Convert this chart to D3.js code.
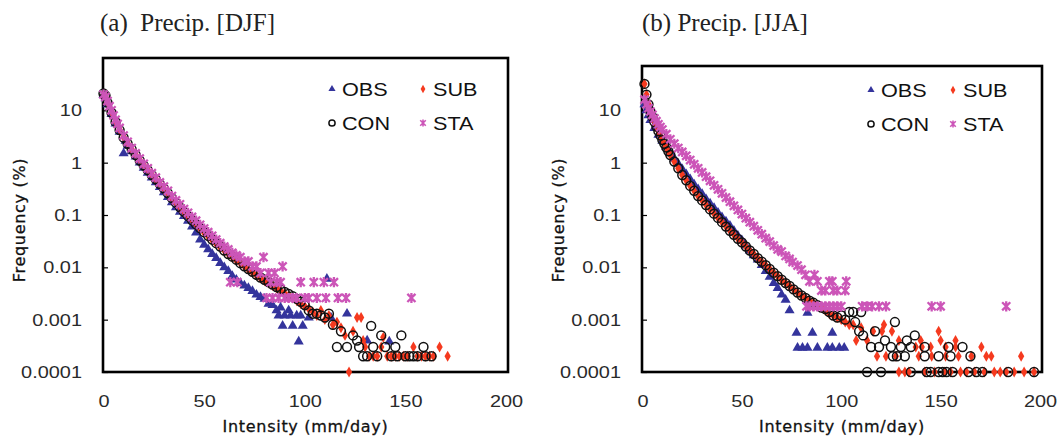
<!DOCTYPE html>
<html>
<head>
<meta charset="utf-8">
<script src="https://cdnjs.cloudflare.com/ajax/libs/d3/7.8.5/d3.min.js"></script>
<style>
    body { margin: 0; background: #fff; }
    svg { display: block; }
    .axis .tick text { font-family: "Liberation Sans", Arial, sans-serif; font-size: 17px; fill: #2a2a2a; }
    .axis .tick line { stroke: #000; stroke-width: 1.2; }
    .legend text { font-family: "Liberation Sans", Arial, sans-serif; font-size: 18.5px; fill: #111; }
    .axis-title { font-family: "DejaVu Sans", sans-serif; font-size: 16px; fill: #111; letter-spacing: 0.7px; stroke: #111; stroke-width: 0.3px; }
    .panel-title { font-family: "Liberation Serif", "Times New Roman", serif; font-size: 25px; fill: #222; }
</style>
</head>
<body>
<svg id="chart" width="1060" height="440"></svg>
<script>

// ---- data: [intensity (mm/day), frequency (%)] ----
const seriesNames = ["OBS", "SUB", "CON", "STA"];
const xTickValues = [0, 50, 100, 150, 200];
const yTickValues = [10, 1, 0.1, 0.01, 0.001, 0.0001];
const yTickLabels = ["10", "1", "0.1", "0.01", "0.001", "0.0001"];

// (a) DJF
const djfObs = [[0,20],[1,17],[2,13],[4,8.5],[6,5.6],[8,3.9],[10,1.5],[11,2.6],[12,2.1],[14,1.65],[16,1.3],[18,1.0],[20,0.8],[22,0.64],[24,0.52],[26,0.42],[28,0.34],[30,0.27],[32,0.22],[34,0.175],[36,0.14],[38,0.115],[40,0.095],[42,0.077],[44,0.06],[46,0.046],[48,0.034],[50,0.027],[52,0.022],[54,0.018],[56,0.015],[58,0.012],[60,0.01],[62,0.0085],[64,0.0068],[66,0.0058],[68,0.005],[70,0.0045],[72,0.004],[74,0.0035],[76,0.003],[78,0.0027],[80,0.0025],[82,0.002],[84,0.0019],[86,0.0015],[87,0.0012],[88,0.0017],[89,0.00076],[90,0.0012],[92,0.0015],[93,0.0012],[94,0.00076],[96,0.0012],[97,0.00038],[98,0.0012],[99,0.00076],[102,0.0011],[111,0.006],[113,0.0011],[121,0.0013],[131,0.0004],[142,0.00038]];
const djfSub = [[0,20],[1,18],[2,14],[4,9.2],[6,6.1],[8,4.3],[10,3.1],[12,2.35],[14,1.8],[16,1.42],[18,1.12],[20,0.9],[22,0.73],[24,0.59],[26,0.48],[28,0.39],[30,0.32],[32,0.26],[34,0.21],[36,0.17],[38,0.14],[40,0.115],[42,0.095],[44,0.08],[46,0.066],[48,0.055],[50,0.046],[52,0.039],[54,0.033],[56,0.028],[58,0.024],[60,0.021],[62,0.018],[64,0.0155],[66,0.0135],[68,0.012],[70,0.0105],[72,0.009],[74,0.008],[76,0.007],[78,0.0062],[80,0.0055],[82,0.005],[84,0.0045],[86,0.004],[88,0.0036],[90,0.0032],[92,0.0029],[94,0.0026],[96,0.0023],[98,0.002],[100,0.0018],[102,0.0016],[104,0.0014],[106,0.0012],[108,0.0015],[110,0.001],[112,0.0012],[114,0.0008],[116,0.0009],[118,0.0007],[120,0.0005],[122,0.0001],[124,0.0006],[126,0.0011],[128,0.0011],[129,0.0004],[130,0.0003],[132,0.0002],[134,0.0002],[136,0.0002],[138,0.0003],[139,0.00046],[141,0.0002],[143,0.0002],[145,0.0002],[147,0.0002],[149,0.0002],[151,0.0002],[154,0.0003],[156,0.0002],[158,0.0002],[160,0.0002],[162,0.0002],[164,0.0002],[167,0.0003],[171,0.0002]];
const djfCon = [[0,21],[1,19],[2,14],[4,9],[6,6],[8,4.2],[10,3.0],[12,2.3],[14,1.8],[16,1.4],[18,1.1],[20,0.88],[22,0.72],[24,0.58],[26,0.48],[28,0.39],[30,0.32],[32,0.26],[34,0.21],[36,0.17],[38,0.14],[40,0.115],[42,0.095],[44,0.079],[46,0.066],[48,0.056],[50,0.047],[52,0.04],[54,0.034],[56,0.029],[58,0.025],[60,0.021],[62,0.018],[64,0.016],[66,0.014],[68,0.012],[70,0.0105],[72,0.0093],[74,0.0082],[76,0.0072],[78,0.0064],[80,0.0058],[82,0.0052],[84,0.0047],[86,0.0042],[88,0.0038],[90,0.0034],[92,0.0031],[94,0.0028],[96,0.0025],[98,0.0022],[100,0.0019],[102,0.0015],[104,0.0013],[106,0.0013],[108,0.0012],[110,0.0011],[112,0.0013],[114,0.0008],[116,0.0003],[118,0.0006],[121,0.0003],[124,0.0005],[126,0.0004],[127,0.0003],[129,0.0002],[131,0.0002],[133,0.00076],[134,0.0003],[136,0.0002],[138,0.0005],[140,0.0003],[143,0.0002],[145,0.0003],[146,0.0002],[148,0.0005],[150,0.0002],[152,0.0002],[154,0.0002],[156,0.0002],[159,0.0003],[160,0.0002],[163,0.0002]];
const djfSta = [[0,20],[1,18],[2,15],[3,12],[4,10],[5,8],[6,6.6],[7,5.5],[8,4.6],[10,3.3],[12,2.5],[14,1.9],[16,1.5],[18,1.2],[20,0.95],[22,0.78],[24,0.63],[26,0.52],[28,0.42],[30,0.35],[32,0.29],[34,0.23],[36,0.19],[38,0.16],[40,0.13],[42,0.11],[44,0.092],[46,0.078],[48,0.065],[50,0.055],[52,0.047],[54,0.04],[56,0.034],[58,0.029],[60,0.025],[62,0.022],[63,0.0052],[64,0.019],[66,0.017],[66.5,0.0052],[68,0.0156],[70,0.013],[72,0.013],[74,0.0104],[76,0.0104],[78,0.0078],[79.5,0.0156],[81,0.0026],[82,0.0078],[83,0.0052],[84,0.0026],[85,0.0078],[86,0.0052],[87,0.0026],[88,0.0052],[89,0.0104],[90,0.0026],[92,0.0026],[94,0.0026],[96,0.0026],[98,0.0052],[100,0.0026],[102,0.0026],[104.5,0.0052],[106,0.0026],[109.5,0.0052],[110.5,0.0026],[114.5,0.0052],[116.5,0.0026],[120.5,0.0026],[153,0.0026]];

// (b) JJA
const jjaObs = [[1,13],[2,10],[3,8],[4,6.5],[6,4.6],[8,3.4],[10,2.6],[12,2.0],[14,1.55],[16,1.2],[18,0.95],[20,0.75],[22,0.6],[24,0.48],[26,0.38],[28,0.31],[30,0.25],[32,0.2],[34,0.165],[36,0.135],[38,0.11],[40,0.09],[42,0.075],[44,0.062],[46,0.05],[48,0.04],[50,0.033],[52,0.026],[54,0.021],[56,0.017],[58,0.014],[60,0.011],[62,0.0085],[64,0.0066],[66,0.005],[68,0.004],[70,0.003],[72,0.0024],[74,0.0015],[77.5,0.00056],[78,0.00029],[80.5,0.00029],[83,0.00135],[83,0.00029],[85.5,0.00056],[88,0.00029],[93,0.00029],[95.5,0.00056],[95.5,0.00029],[99,0.00029],[101.5,0.00029]];
const jjaSub = [[1,32],[2,20],[3,13],[4,9.6],[5,7.5],[6,6],[7,4.9],[8,4],[9,3.3],[10,2.7],[11,2.3],[12,1.95],[13,1.65],[14,1.4],[16,1.05],[18,0.78],[20,0.58],[22,0.46],[24,0.36],[26,0.29],[28,0.23],[30,0.19],[32,0.155],[34,0.128],[36,0.106],[38,0.088],[40,0.073],[42,0.06],[44,0.05],[46,0.042],[48,0.035],[50,0.03],[52,0.025],[54,0.021],[56,0.018],[58,0.015],[60,0.0128],[62,0.011],[64,0.0093],[66,0.0079],[68,0.0068],[70,0.0058],[72,0.005],[74,0.0044],[76,0.0038],[78,0.0033],[80,0.0029],[82,0.0026],[84,0.0023],[86,0.0021],[88,0.0019],[90,0.0017],[92,0.0015],[94,0.0013],[96,0.0012],[98,0.0011],[100,0.001],[102,0.0009],[104,0.0008],[106,0.0008],[107.5,0.0004],[110,0.0007],[113,0.0004],[116,0.0006],[118,0.0002],[120.5,0.0006],[121.5,0.0008],[122.5,0.0002],[125.5,0.0006],[127.5,0.0002],[129,0.0004],[129,0.0001],[132,0.0001],[134,0.0001],[137.5,0.0003],[139,0.0002],[140,0.0004],[140.5,0.0003],[142,0.0001],[145,0.0003],[145.5,0.0002],[147,0.0001],[149,0.0006],[150,0.0004],[152,0.0001],[152.5,0.0003],[152.5,0.0002],[155,0.0001],[157.5,0.0003],[157.5,0.0004],[159,0.0002],[160,0.0001],[163,0.0001],[165.5,0.0002],[167,0.0001],[170.5,0.0003],[172,0.0001],[173,0.0002],[175.5,0.0002],[177,0.0001],[180,0.0001],[183,0.0001],[187,0.0001],[190.5,0.0002],[192,0.0001],[197,0.0001]];
const jjaCon = [[1,32],[2,20],[3,13],[4,9.5],[5,7.5],[6,6],[7,4.9],[8,4],[9,3.3],[10,2.7],[11,2.3],[12,1.95],[13,1.65],[14,1.4],[16,1.05],[18,0.78],[20,0.58],[22,0.46],[24,0.36],[26,0.29],[28,0.23],[30,0.19],[32,0.155],[34,0.128],[36,0.106],[38,0.088],[40,0.073],[42,0.06],[44,0.05],[46,0.042],[48,0.035],[50,0.03],[52,0.025],[54,0.021],[56,0.018],[58,0.015],[60,0.0128],[62,0.011],[64,0.0093],[66,0.0079],[68,0.0068],[70,0.0058],[72,0.005],[74,0.0044],[76,0.0038],[78,0.0033],[80,0.0029],[82,0.0026],[84,0.0023],[86,0.0021],[88,0.0019],[90,0.0017],[92,0.0016],[94,0.0014],[96,0.0012],[98,0.0011],[100,0.0012],[102,0.001],[104,0.0014],[106,0.0014],[107,0.0009],[109,0.0006],[110,0.0014],[111,0.0005],[113,0.0001],[115,0.0003],[117,0.0006],[119,0.0003],[120,0.0001],[122,0.0004],[125,0.0003],[126,0.0002],[127,0.0009],[128,0.0002],[130,0.0003],[132,0.0002],[133,0.0004],[135,0.0003],[135,0.0001],[137,0.0005],[142,0.0003],[142,0.0002],[143,0.0001],[145,0.0001],[149,0.0002],[149,0.0001],[151,0.0001],[153,0.0001],[154,0.0003],[155,0.0002],[156,0.0001],[161,0.0003],[164,0.0001],[165,0.0002],[168,0.0001],[171,0.0001],[184,0.0001],[197,0.0001]];
const jjaSta = [[1,16],[2,13],[3,11],[4,9.5],[5,8.2],[6,7],[7,6.2],[8,5.4],[9,4.8],[10,4.3],[12,3.5],[14,2.8],[16,2.3],[18,1.9],[20,1.6],[22,1.35],[24,1.12],[26,0.93],[28,0.78],[30,0.65],[32,0.54],[34,0.45],[36,0.37],[38,0.31],[40,0.26],[42,0.215],[44,0.18],[46,0.15],[48,0.125],[50,0.104],[52,0.087],[54,0.073],[56,0.061],[58,0.051],[60,0.043],[62,0.036],[64,0.031],[66,0.026],[68,0.022],[70,0.02],[72,0.0165],[74,0.0145],[75.5,0.0126],[78,0.0108],[80,0.009],[82,0.0072],[82.5,0.0018],[84,0.0054],[84,0.0018],[86,0.0018],[86.5,0.0072],[88,0.0054],[88,0.0018],[90,0.0036],[90,0.0018],[92,0.0036],[92,0.0018],[94,0.0054],[94,0.0018],[95.5,0.0054],[96,0.0036],[96,0.0018],[98,0.0036],[98,0.0018],[100,0.0018],[102,0.0036],[102.5,0.0054],[110.5,0.0018],[113,0.0018],[115.5,0.0018],[119,0.0018],[122.5,0.0018],[145.5,0.0018],[150,0.0018],[183,0.0018]];

// Excel style "star" marker: an x with a vertical bar through it
const symbolStar = {
    draw(context, size) {
        let r = Math.sqrt(size) * 0.55;
        let d = r * 0.8;
        context.moveTo(-d, -d); context.lineTo(d, d);
        context.moveTo(-d, d); context.lineTo(d, -d);
        context.moveTo(0, -r); context.lineTo(0, r);
    }
};

const markerStyle = {
    OBS: {type: d3.symbolTriangle, size: 44, fill: "#34349c", stroke: "none", width: 0, legend: 22},
    SUB: {type: d3.symbolDiamond, size: 34, fill: "#f53a1f", stroke: "none", width: 0, legend: 20},
    CON: {type: d3.symbolCircle, size: 62, fill: "none", stroke: "#111", width: 1.5, legend: 30},
    STA: {type: symbolStar, size: 85, fill: "none", stroke: "#cc55b8", width: 2.3, legend: 40}
};

class FreqPanel {

    constructor(svg, config, series) {
        this.svg = svg;
        this.config = config;
        this.series = series;
    }

    initVis() {
        let vis = this;
        let c = vis.config;

        vis.g = vis.svg.append("g");

        // Scales and axes
        vis.x = d3.scaleLinear()
            .domain([0, 200])
            .range([c.left + 0.5, c.right - 2]);
        vis.y = d3.scaleLog()
            .domain([0.0001, 100])
            .range([372, 58]);

        vis.xAxis = d3.axisBottom(vis.x)
            .tickValues(xTickValues)
            .tickSize(0)
            .tickPadding(23);
        vis.yAxis = d3.axisLeft(vis.y)
            .tickValues(yTickValues)
            .tickFormat((d, i) => yTickLabels[i])
            .tickSizeInner(-5)
            .tickSizeOuter(0)
            .tickPadding(18);

        vis.updateVis();
    }

    updateVis() {
        let vis = this;
        let c = vis.config;

        // Frame
        vis.g.append("rect")
            .attr("x", c.left)
            .attr("y", c.top)
            .attr("width", c.right - c.left)
            .attr("height", 372 - c.top)
            .attr("fill", "none")
            .attr("stroke", "#000")
            .attr("stroke-width", 2.6);

        // Axes
        let xg = vis.g.append("g")
            .attr("class", "x-axis axis")
            .attr("transform", "translate(0,372)")
            .call(vis.xAxis);
        xg.select(".domain").remove();
        xg.selectAll(".tick text")
            .attr("transform", "scale(1.17,1)");

        let yg = vis.g.append("g")
            .attr("class", "y-axis axis")
            .attr("transform", `translate(${c.left},0)`)
            .call(vis.yAxis);
        yg.select(".domain").remove();
        yg.selectAll(".tick text")
            .attr("transform", "scale(1.17,1)");

        // Points
        seriesNames.forEach(function(name) {
            let m = markerStyle[name];
            let sym = d3.symbol().type(m.type).size(m.size);
            vis.g.append("g")
                .attr("class", "series-" + name)
                .selectAll("path")
                .data(vis.series[name])
                .enter()
                .append("path")
                .attr("d", sym)
                .attr("transform", d => `translate(${vis.x(d[0])},${vis.y(d[1])})`)
                .attr("fill", m.fill)
                .attr("stroke", m.stroke)
                .attr("stroke-width", m.width);
        });

        // Legend
        let lg = vis.g.append("g").attr("class", "legend");
        seriesNames.forEach(function(name, i) {
            let m = markerStyle[name];
            let lx = c.legend.x[i % 2];
            let ly = c.legend.y[Math.floor(i / 2)];
            lg.append("path")
                .attr("d", d3.symbol().type(m.type).size(m.legend))
                .attr("transform", `translate(${lx},${ly})`)
                .attr("fill", m.fill)
                .attr("stroke", m.stroke)
                .attr("stroke-width", Math.min(m.width, 1.6));
            lg.append("text")
                .attr("transform", `translate(${lx + 10},${ly + 6.5}) scale(1.17,1)`)
                .text(name);
        });

        // Labels
        vis.svg.append("text")
            .attr("class", "panel-title")
            .attr("x", c.titleX)
            .attr("y", 31)
            .attr("xml:space", "preserve")
            .text(c.title);
        vis.svg.append("text")
            .attr("class", "axis-title")
            .attr("x", (c.left + c.right) / 2)
            .attr("y", 432)
            .attr("text-anchor", "middle")
            .text("Intensity (mm/day)");
        vis.svg.append("text")
            .attr("class", "axis-title")
            .attr("transform", `translate(${c.left - 78},220) rotate(-90)`)
            .attr("text-anchor", "middle")
            .text("Frequency (%)");
    }
}

let svg = d3.select("#chart");
svg.append("rect").attr("width", 1060).attr("height", 440).attr("fill", "#fff");

let panelA = new FreqPanel(svg,
    {left: 103, right: 508, top: 58, title: "(a)  Precip. [DJF]", titleX: 100,
     legend: {x: [332, 423], y: [89, 123]}},
    {OBS: djfObs, SUB: djfSub, CON: djfCon, STA: djfSta});
panelA.initVis();

let panelB = new FreqPanel(svg,
    {left: 642, right: 1042, top: 66, title: "(b) Precip. [JJA]", titleX: 642,
     legend: {x: [871, 953], y: [90, 124]}},
    {OBS: jjaObs, SUB: jjaSub, CON: jjaCon, STA: jjaSta});
panelB.initVis();

</script>
</body>
</html>
